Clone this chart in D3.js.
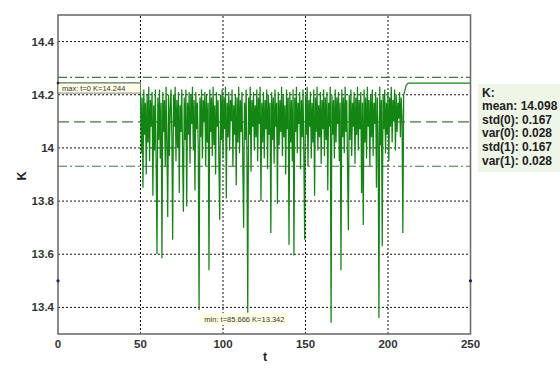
<!DOCTYPE html>
<html lang="en">
<head>
  <meta charset="utf-8">
  <title>K over t</title>
  <script src="https://d3js.org/d3.v7.min.js"></script>
  <style>
    body { margin: 0; background: #fff; }
    text { font-family: Arial, "Liberation Sans", sans-serif; }
  </style>
</head>
<body>
<script>
// flat parts of the series (t, K)
var leadIn = [[0, 14.244], [49.8, 14.244]];
var tailOut = [[210, 14.21], [211, 14.235], [212, 14.243], [213, 14.244], [250, 14.244]];

// noisy part, one value every 0.5 of t, starting at t = 50
var noiseStart = 50, noiseStep = 0.5;
var noise = [
  14.21,13.98,14.19,13.85,14.22,14.05,14.17,13.90,14.20,14.02,14.23,13.95,14.18,14.08,14.21,13.82,14.16,13.99,14.22,13.94,
  13.60,14.19,14.03,14.22,13.96,14.17,13.585,14.21,14.06,14.18,13.93,14.23,14.01,13.74,14.20,13.97,14.15,14.22,14.04,13.655,
  14.20,14.08,14.23,13.95,14.18,14.00,14.21,13.83,14.16,14.06,14.22,13.98,13.76,14.19,14.03,14.22,13.78,14.17,14.05,14.21,
  13.94,14.20,14.09,14.23,13.99,14.18,13.84,14.21,14.07,14.17,14.00,13.39,14.19,14.04,14.22,13.96,14.18,14.10,14.21,13.93,
  14.20,14.02,14.17,13.54,14.22,14.06,14.19,13.97,14.23,14.01,14.16,13.90,14.21,14.08,14.18,13.95,13.73,14.20,14.03,14.22,
  13.96,14.19,14.07,14.23,13.81,14.17,14.04,14.21,13.99,14.18,14.10,14.22,13.93,14.16,14.05,14.20,13.86,14.19,14.02,14.23,
  13.98,14.18,14.06,14.21,13.94,13.70,14.17,14.03,14.22,13.97,13.38,14.19,14.05,14.23,13.91,14.18,14.08,14.21,13.99,14.16,
  14.04,14.22,13.95,14.19,14.09,14.23,13.80,14.17,14.02,14.21,13.96,14.18,14.07,14.22,13.92,14.20,14.05,14.17,13.68,14.21,
  14.03,14.19,13.94,14.22,14.08,14.17,13.79,14.21,14.01,14.18,14.06,14.23,13.97,14.20,14.04,14.16,13.90,14.22,14.07,14.19,
  13.636,14.21,14.02,14.18,13.95,14.22,13.595,14.19,14.06,14.23,13.98,14.17,14.09,14.21,13.92,14.18,14.04,14.22,13.97,13.655,
  14.20,14.05,14.23,13.93,14.18,14.08,14.21,13.96,14.17,14.02,14.22,13.82,14.19,14.06,14.23,13.99,14.16,14.04,14.21,13.94,
  14.18,14.07,14.22,13.97,14.19,14.03,14.21,13.84,14.17,14.08,14.23,13.342,14.20,14.05,14.18,13.96,14.22,14.02,14.19,14.09,
  14.21,13.95,14.17,13.54,14.22,14.04,14.19,13.98,14.23,14.06,14.18,13.92,13.69,14.20,14.03,14.22,13.97,14.17,14.08,14.21,
  13.94,14.19,14.05,14.23,13.99,14.18,14.07,14.21,13.83,14.17,13.71,14.22,14.02,14.19,13.96,14.23,14.08,14.18,13.93,14.20,
  14.04,14.22,13.97,14.17,14.09,14.21,13.85,14.19,14.06,13.36,14.23,14.01,14.18,13.63,14.20,14.07,14.22,13.98,14.17,14.05,
  14.21,13.95,14.19,14.08,14.23,14.02,14.18,14.10,14.22,13.99,14.20,14.06,14.17,14.11,14.21,14.04,14.19,14.12,13.68,14.20
];

// small blue markers on both frame edges
var edgeMarks = [[0, 13.5], [250, 13.5]];

// statistics
var meanK = 14.098, stdK = 0.167;
var statLabels = ["K:", "mean: 14.098", "std(0): 0.167", "var(0): 0.028", "std(1): 0.167", "var(1): 0.028"];

var xTicks = [0, 50, 100, 150, 200, 250];
var yTicks = [13.4, 13.6, 13.8, 14, 14.2, 14.4];

var maxLabel = { t: 0, k: 14.244, text: "max: t=0  K=14.244" };
var minLabel = { t: 85.666, k: 13.342, text: "min:  t=85.666  K=13.342" };

var W = 560, H = 372;
var x = d3.scaleLinear().domain([0, 250]).range([58, 470.5]);
var y = d3.scaleLinear().domain([13.3, 14.5]).range([334, 15]);

var series = leadIn.concat(noise.map(function (v, i) { return [noiseStart + i * noiseStep, v]; }), tailOut);

var svg = d3.select("body").append("svg").attr("width", W).attr("height", H);

// grid
svg.append("g").selectAll("line").data(yTicks).enter().append("line")
  .attr("x1", x(0)).attr("x2", x(250))
  .attr("y1", function (d) { return y(d); }).attr("y2", function (d) { return y(d); })
  .attr("stroke", "#111").attr("stroke-width", 1).attr("stroke-dasharray", "2,2");
svg.append("g").selectAll("line").data(xTicks.slice(1, -1)).enter().append("line")
  .attr("y1", y(13.3)).attr("y2", y(14.5))
  .attr("x1", function (d) { return x(d); }).attr("x2", function (d) { return x(d); })
  .attr("stroke", "#111").attr("stroke-width", 1).attr("stroke-dasharray", "2,2");

// mean and +- std lines
svg.append("line").attr("x1", x(0)).attr("x2", x(250)).attr("y1", y(meanK)).attr("y2", y(meanK))
  .attr("stroke", "#3f7a3f").attr("stroke-width", 1.2).attr("stroke-dasharray", "11,5");
[meanK + stdK, meanK - stdK].forEach(function (v) {
  svg.append("line").attr("x1", x(0)).attr("x2", x(250)).attr("y1", y(v)).attr("y2", y(v))
    .attr("stroke", "#3f7a3f").attr("stroke-width", 1.2).attr("stroke-dasharray", "9,3,2,3");
});

// data line
var line = d3.line().x(function (d) { return x(d[0]); }).y(function (d) { return y(d[1]); });
svg.append("path").datum(series).attr("d", line)
  .attr("fill", "none").attr("stroke", "#138513").attr("stroke-width", 1.25);

// frame
svg.append("rect").attr("x", x(0)).attr("y", y(14.5))
  .attr("width", x(250) - x(0)).attr("height", y(13.3) - y(14.5))
  .attr("fill", "none").attr("stroke", "#6e6e6e").attr("stroke-width", 1.6);

// edge markers
svg.selectAll(".edge").data(edgeMarks).enter().append("circle")
  .attr("cx", function (d) { return x(d[0]); }).attr("cy", function (d) { return y(d[1]); })
  .attr("r", 1.6).attr("fill", "#1a1a8c");

// max / min annotation boxes
svg.append("rect").attr("x", x(maxLabel.t)).attr("y", y(maxLabel.k))
  .attr("width", x(50) - x(maxLabel.t)).attr("height", 10)
  .attr("fill", "#ffffe8").attr("stroke", "#555").attr("stroke-width", 0.7);
svg.append("text").attr("x", x(maxLabel.t) + 4).attr("y", y(maxLabel.k) + 8)
  .attr("font-size", 7.5).attr("fill", "#333").text(maxLabel.text);
svg.append("circle").attr("cx", x(maxLabel.t)).attr("cy", y(maxLabel.k)).attr("r", 1.3).attr("fill", "#222");

svg.append("rect").attr("x", x(minLabel.t) + 1).attr("y", 313)
  .attr("width", 86).attr("height", 12).attr("fill", "#ffffe4");
svg.append("text").attr("x", x(minLabel.t) + 5).attr("y", 322)
  .attr("font-size", 7.5).attr("fill", "#333").text(minLabel.text);

// tick labels
svg.append("g").selectAll("text").data(xTicks).enter().append("text")
  .attr("x", function (d) { return x(d); }).attr("y", 348)
  .attr("text-anchor", "middle").attr("font-size", 11.5).attr("font-weight", "bold").attr("fill", "#333")
  .text(function (d) { return d; });
svg.append("g").selectAll("text").data(yTicks).enter().append("text")
  .attr("x", 54).attr("y", function (d) { return y(d) + 4; })
  .attr("text-anchor", "end").attr("font-size", 11.5).attr("font-weight", "bold").attr("fill", "#333")
  .text(function (d) { return d3.format("~g")(d); });

// axis titles
svg.append("text").attr("x", 265).attr("y", 361).attr("text-anchor", "middle")
  .attr("font-size", 12.5).attr("font-weight", "bold").attr("fill", "#222").text("t");
svg.append("text").attr("transform", "translate(26,176) rotate(-90)").attr("text-anchor", "middle")
  .attr("font-size", 12.5).attr("font-weight", "bold").attr("fill", "#222").text("K");

// statistics box
svg.append("rect").attr("x", 478).attr("y", 84).attr("width", 82).attr("height", 88).attr("fill", "#eef6e8");
svg.append("g").selectAll("text").data(statLabels).enter().append("text")
  .attr("x", 482).attr("y", function (d, i) { return 96.5 + i * 13.6; })
  .attr("font-size", 12).attr("font-weight", "bold").attr("fill", "#222")
  .text(function (d) { return d; });
</script>
</body>
</html>
